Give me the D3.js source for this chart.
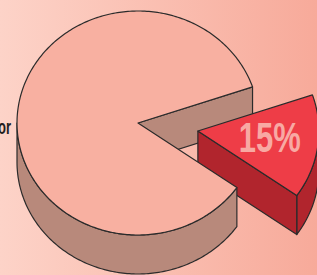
<!DOCTYPE html>
<html>
<head>
<meta charset="utf-8">
<script src="https://cdn.jsdelivr.net/npm/d3@7"></script>
<style>
  html, body { margin: 0; padding: 0; overflow: hidden; }
</style>
</head>
<body>
<div id="chart"></div>
<script>
// Data
const categories = ["rest", "share"];
const values = [85, 15];
const labels = ["or", "15%"];
const topColors = ["#f8b0a1", "#ee3d47"];
const sideColors = ["#b8897b", "#b1252d"];

// Dimensions
const width = 317;
const height = 275;
const cx = 138, cy = 123;     // centre of the top face
const rx = 121, ry = 112;     // ellipse radii of the tilted pie
const depth = 39;             // thickness of the pie
const deg = Math.PI / 180;
const start = 125.2 * deg;

const svg = d3.select("#chart")
    .append("svg")
    .attr("width", width)
    .attr("height", height);

// background gradient
const grad = svg.append("defs").append("linearGradient")
    .attr("id", "bg").attr("x1", 0).attr("x2", 1).attr("y1", 0).attr("y2", 0);
grad.append("stop").attr("offset", "0%").attr("stop-color", "#fdd3c8");
grad.append("stop").attr("offset", "100%").attr("stop-color", "#f7aa9a");
svg.append("rect").attr("width", width).attr("height", height).attr("fill", "url(#bg)");

// pie layout (slice 1 is pulled out)
const pie = d3.pie().sort(null).startAngle(start).endAngle(start + 2 * Math.PI);
const arcs = pie(values);
const explode = [0, 0.5];

const sx = d3.scaleLinear().domain([-1, 1]).range([-rx, rx]);
const sy = d3.scaleLinear().domain([-1, 1]).range([-ry, ry]);

function offset(d, i) {
    const m = (d.startAngle + d.endAngle) / 2;
    return [sx(explode[i] * Math.sin(m)), sy(-explode[i] * Math.cos(m))];
}
function pt(a, o, dz) {
    return [cx + o[0] + sx(Math.sin(a)), cy + o[1] + sy(-Math.cos(a)) + (dz || 0)];
}
function arcPts(a0, a1, o, dz) {
    const n = Math.max(2, Math.ceil(Math.abs(a1 - a0) / (1 * deg)));
    return d3.range(n + 1).map(k => pt(a0 + (a1 - a0) * k / n, o, dz));
}
const line = d3.line();

function topFace(d, i) {
    const o = offset(d, i);
    return line([[cx + o[0], cy + o[1]], ...arcPts(d.startAngle, d.endAngle, o)]) + "Z";
}
// parts of the outer wall that face the viewer
function outerWalls(d, i) {
    const o = offset(d, i);
    const out = [];
    for (let k = -1; k <= 2; k++) {
        const lo = Math.max(d.startAngle, Math.PI / 2 + 2 * Math.PI * k);
        const hi = Math.min(d.endAngle, 1.5 * Math.PI + 2 * Math.PI * k);
        if (hi > lo) {
            out.push(line([...arcPts(lo, hi, o), ...arcPts(hi, lo, o, depth)]) + "Z");
        }
    }
    return out;
}
function radialWall(a, d, i) {
    const o = offset(d, i);
    const c = [cx + o[0], cy + o[1]];
    const p = pt(a, o);
    return line([c, p, [p[0], p[1] + depth], [c[0], c[1] + depth]]) + "Z";
}
// visible cut faces
function cutWalls(d, i) {
    const w = [];
    if (Math.sin(d.endAngle) > 0) w.push(radialWall(d.endAngle, d, i));
    if (Math.sin(d.startAngle) < 0) w.push(radialWall(d.startAngle, d, i));
    return w;
}

const stroke = "#2b2b2b";
const g = svg.append("g")
    .attr("stroke", stroke)
    .attr("stroke-width", 1.2)
    .attr("stroke-linejoin", "round");

function drawPaths(list, fill) {
    list.forEach(p => g.append("path").attr("d", p).attr("fill", fill));
}

// 1. cut face of the main slice
drawPaths(cutWalls(arcs[0], 0), sideColors[0]);
// 2. exploded slice
drawPaths(outerWalls(arcs[1], 1), sideColors[1]);
drawPaths(cutWalls(arcs[1], 1), sideColors[1]);
drawPaths([topFace(arcs[1], 1)], topColors[1]);
// 3. main slice outer wall and top
drawPaths(outerWalls(arcs[0], 0), sideColors[0]);
drawPaths([topFace(arcs[0], 0)], topColors[0]);

// label on exploded slice
const d1 = arcs[1];
const o1 = offset(d1, 1);
const m1 = (d1.startAngle + d1.endAngle) / 2;
const lx = cx + o1[0] + sx(0.6 * Math.sin(m1));
const ly = cy + o1[1] + sy(-0.6 * Math.cos(m1)) - 4;
svg.append("text")
    .attr("x", lx)
    .attr("y", ly + 15.3)
    .attr("text-anchor", "middle")
    .attr("font-family", "Liberation Sans, Arial, sans-serif")
    .attr("font-weight", "bold")
    .attr("font-size", 42)
    .attr("textLength", 62)
    .attr("lengthAdjust", "spacingAndGlyphs")
    .attr("fill", "#f8a9a3")
    .text(labels[1]);

// label of the main slice (cut off at the left edge)
svg.append("text")
    .attr("x", 11)
    .attr("y", 134)
    .attr("text-anchor", "end")
    .attr("font-family", "Liberation Sans, Arial, sans-serif")
    .attr("font-weight", "bold")
    .attr("font-size", 20)
    .attr("textLength", 13)
    .attr("lengthAdjust", "spacingAndGlyphs")
    .attr("fill", "#231f20")
    .text(labels[0]);
</script>
</body>
</html>
